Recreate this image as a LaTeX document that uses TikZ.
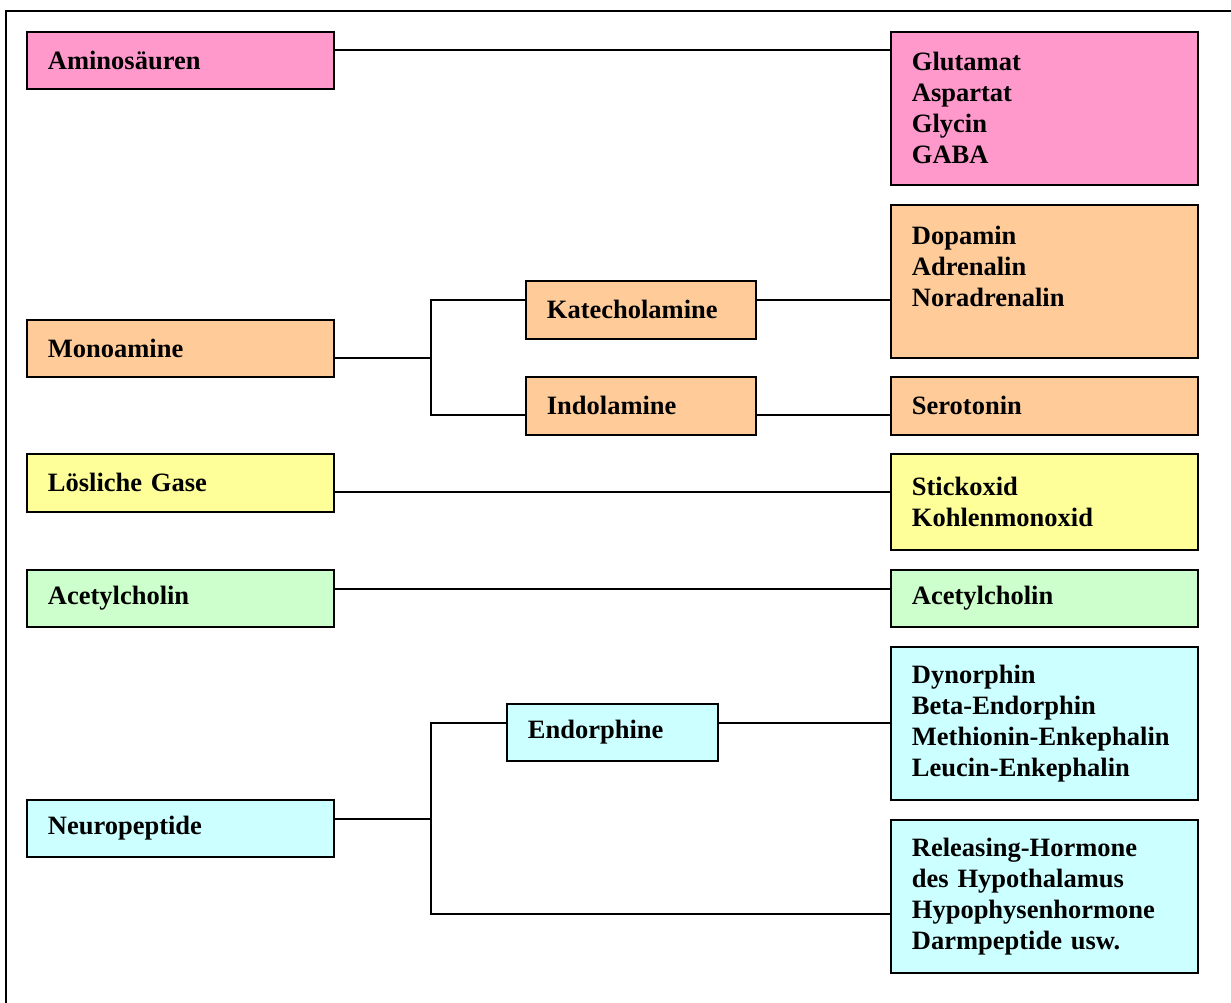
\documentclass[tikz,border=0pt]{standalone}
\usepackage{fontspec}
\setmainfont{Liberation Serif}
\definecolor{rosa}{HTML}{FF99CC}
\definecolor{apricot}{HTML}{FFCC99}
\definecolor{hellgelb}{HTML}{FFFF99}
\definecolor{hellgruen}{HTML}{CCFFCC}
\definecolor{hellcyan}{HTML}{CCFFFF}
\tikzset{box/.style={rectangle, draw=black, line width=1.8pt, anchor=north west, align=left, inner xsep=21pt, inner ysep=0pt, font=\bfseries\fontsize{26.5}{31}\selectfont}}
\tikzset{wbox/.style={box, text width=265pt, minimum height=57pt}}
\tikzset{link/.style={line width=2pt}}

\begin{document}
\begin{tikzpicture}[x=1pt, y=-1pt]
                        \clip (0,0) rectangle (1231,1003);
                        \draw[line width=1.5pt] (6,11) rectangle (1240,1010);

                        \node[wbox, fill=rosa] (amino) at (26, 31) {Aminosäuren};
                        \node[wbox, fill=rosa, minimum height=153pt] (glut) at (890, 31) {Glutamat\\Aspartat\\Glycin\\GABA};

                        \node[wbox, fill=apricot, minimum height=153pt] (dopa) at (890, 204) {Dopamin\\Adrenalin\\Noradrenalin\\\mbox{}};
                        \node[wbox, fill=apricot] (mono) at (26, 319) {Monoamine};
                        \node[box, fill=apricot, text width=188pt, minimum height=58pt] (kat) at (525, 280) {Katecholamine};
                        \node[box, fill=apricot, text width=188pt, minimum height=58pt] (indol) at (525, 376) {Indolamine};
                        \node[wbox, fill=apricot, minimum height=58pt] (sero) at (890, 376) {Serotonin};

                        \node[wbox, fill=hellgelb, minimum height=58pt] (gase) at (26, 453) {Lösliche Gase};
                        \node[wbox, fill=hellgelb, minimum height=96pt] (stick) at (890, 453) {Stickoxid\\Kohlenmonoxid};

                        \node[wbox, fill=hellgruen] (ach) at (26, 569) {Acetylcholin};
                        \node[wbox, fill=hellgruen] (achr) at (890, 569) {Acetylcholin};

                        \node[wbox, fill=hellcyan, minimum height=153pt] (dyno) at (890, 646) {Dynorphin\\Beta-Endorphin\\Methionin-Enkephalin\\Leucin-Enkephalin};
                        \node[box, fill=hellcyan, text width=169pt, minimum height=57pt] (endo) at (506, 703) {Endorphine};
                        \node[wbox, fill=hellcyan] (neuro) at (26, 799) {Neuropeptide};
                        \node[wbox, fill=hellcyan, minimum height=153pt] (rel) at (890, 819) {Releasing-Hormone\\des Hypothalamus\\Hypophysenhormone\\Darmpeptide usw.};

                        \coordinate (aR) at ([yshift=10.5pt]amino.east);
                        \coordinate (mR) at ([yshift=-9.5pt]mono.east);
                        \coordinate (mj) at ([xshift=96pt]mR);
                        \coordinate (kL) at ([yshift=10pt]kat.west);
                        \coordinate (kR) at ([yshift=10pt]kat.east);
                        \coordinate (iL) at ([yshift=-9pt]indol.west);
                        \coordinate (iR) at ([yshift=-9pt]indol.east);
                        \coordinate (gR) at ([yshift=-9pt]gase.east);
                        \coordinate (cR) at ([yshift=9.5pt]ach.east);
                        \coordinate (nR) at ([yshift=9.5pt]neuro.east);
                        \coordinate (nj) at ([xshift=96pt]nR);
                        \coordinate (eL) at ([yshift=9.5pt]endo.west);
                        \coordinate (eR) at ([yshift=9.5pt]endo.east);
                        \coordinate (rL) at ([yshift=-17.5pt]rel.west);

                        \draw[link]
                        (aR) -- (aR -| glut.west)
                        (mR) -- (mj)
                        (kL) -- (kL -| mj) -- (iL -| mj) -- (iL)
                        (kR) -- (kR -| dopa.west)
                        (iR) -- (iR -| sero.west)
                        (gR) -- (gR -| stick.west)
                        (cR) -- (cR -| achr.west)
                        (nR) -- (nj)
                        (eL) -- (eL -| nj) -- (rL -| nj) -- (rL)
                        (eR) -- (eR -| dyno.west);
                    \end{tikzpicture}
\end{document}
